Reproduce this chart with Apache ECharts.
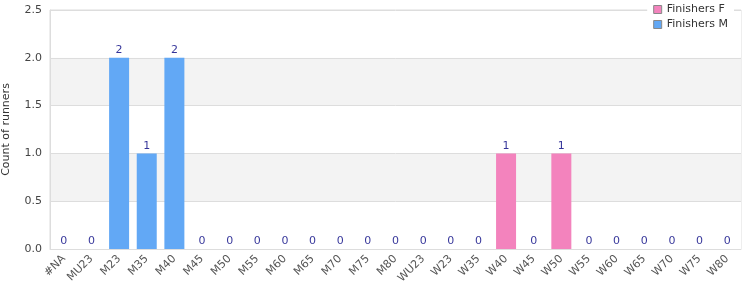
<!DOCTYPE html>
<html><head><meta charset="utf-8">
<script src="https://cdn.jsdelivr.net/npm/echarts@6/dist/echarts.min.js"></script>
<style>html,body{margin:0;padding:0;background:#fff}#c{width:750px;height:300px}</style>
</head><body><div id="c"></div>
<script>
const categories = ['#NA','MU23','M23','M35','M40','M45','M50','M55','M60','M65','M70','M75','M80','WU23','W23','W35','W40','W45','W50','W55','W60','W65','W70','W75','W80'];
const finishersF = [0,0,0,0,0,0,0,0,0,0,0,0,0,0,0,0,1,0,1,0,0,0,0,0,0];
const finishersM = [0,0,2,1,2,0,0,0,0,0,0,0,0,0,0,0,0,0,0,0,0,0,0,0,0];
const yTicks = [0, 0.5, 1, 1.5, 2, 2.5];
const totals = categories.map((c, i) => finishersF[i] + finishersM[i]);

const chart = echarts.init(document.getElementById('c'), null, {renderer: 'canvas'});
chart.setOption({
  animation: false,
  textStyle: {fontFamily: 'DejaVu Sans'},
  grid: {left: 50, right: 9, top: 10, bottom: 51, containLabel: false, outerBoundsMode: 'none',
         show: true, borderColor: '#dddddd', borderWidth: 1, backgroundColor: 'transparent'},
  legend: {
    data: [
      {name: 'Finishers F', itemStyle: {color: '#f383bd', borderColor: '#888', borderWidth: 1}},
      {name: 'Finishers M', itemStyle: {color: '#62a8f5', borderColor: '#888', borderWidth: 1}},
    ],
    orient: 'vertical', right: 16, top: 2,
    backgroundColor: '#fff', padding: [2, 6, 2, 6],
    itemWidth: 8, itemHeight: 8, itemGap: 4,
    icon: 'rect',
    textStyle: {fontSize: 11, color: '#333', fontFamily: 'DejaVu Sans'},
  },
  xAxis: {
    type: 'category', data: categories,
    axisLine: {lineStyle: {color: '#dddddd'}},
    axisTick: {show: false},
    axisLabel: {rotate: 45, fontSize: 11, color: '#555', interval: 0, margin: 8, fontFamily: 'DejaVu Sans'},
  },
  yAxis: {
    type: 'value', min: yTicks[0], max: yTicks[yTicks.length - 1], interval: 0.5,
    name: 'Count of runners', nameLocation: 'middle', nameGap: 38,
    nameTextStyle: {fontSize: 11, color: '#333', fontFamily: 'DejaVu Sans'},
    axisLine: {show: true, lineStyle: {color: '#dddddd'}},
    axisTick: {show: false},
    axisLabel: {fontSize: 11, color: '#444', formatter: v => v.toFixed(1), fontFamily: 'DejaVu Sans'},
    splitLine: {lineStyle: {color: '#dddddd'}},
    splitArea: {show: true, areaStyle: {color: ['#ffffff', '#f3f3f3']}},
  },
  series: [
    {name: 'Finishers F', type: 'bar', stack: 'a', data: finishersF, barWidth: 20,
     itemStyle: {color: '#f383bd', borderWidth: 0}},
    {name: 'Finishers M', type: 'bar', stack: 'a', data: finishersM, barWidth: 20,
     itemStyle: {color: '#62a8f5', borderWidth: 0}},
    {name: 'total', type: 'scatter', data: totals, symbolSize: 0, silent: true,
     label: {show: true, position: 'top', distance: 2, color: '#000080', fontSize: 11, fontFamily: 'DejaVu Sans'}},
  ],
});
</script></body></html>
